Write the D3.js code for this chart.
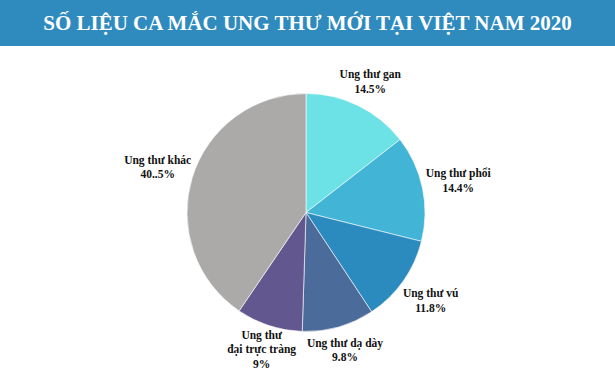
<!DOCTYPE html>
<html><head><meta charset="utf-8">
<script src="https://cdn.jsdelivr.net/npm/d3@7"></script>
<style>body{margin:0;background:#fff}svg{display:block}
.serif{font-family:"Liberation Serif","DejaVu Serif",serif;font-weight:bold}</style>
</head><body>
<svg id="c" width="615" height="392"></svg>
<script>
const title = "SỐ LIỆU CA MẮC UNG THƯ MỚI TẠI VIỆT NAM 2020";
const categories = ["Ung thư gan","Ung thư phổi","Ung thư vú","Ung thư dạ dày","Ung thư đại trực tràng","Ung thư khác"];
const labelLines = [["Ung thư gan"],["Ung thư phổi"],["Ung thư vú"],["Ung thư dạ dày"],["Ung thư","đại trực tràng"],["Ung thư khác"]];
const values = [14.5,14.4,11.8,9.8,9,40.5];
const valueLabels = ["14.5%","14.4%","11.8%","9.8%","9%","40..5%"];
const colors = ["#6ce2e6","#42b5d7","#2c8bbe","#4b6b9b","#635790","#abaaa8"];

const svg = d3.select("#c");
svg.append("rect").attr("x",0).attr("y",0).attr("width",615).attr("height",46).attr("fill","#2f8bbe");
svg.append("text").attr("class","serif").attr("x",307.5).attr("y",30).attr("text-anchor","middle")
  .attr("fill","#fff").attr("font-size",21).text(title);

const cx = 306, cy = 212.5, R = 119;
const g = svg.append("g").attr("transform",`translate(${cx},${cy})`);
const pie = d3.pie().sort(null).value(d=>d);
const arcs = pie(values);
const arc = d3.arc().innerRadius(0).outerRadius(R);
g.selectAll("path").data(arcs).join("path").attr("d",arc)
  .attr("fill",(d,i)=>colors[i]).attr("stroke","#fff").attr("stroke-width",0.6);

const lab = g.selectAll("g.lab").data(arcs).join("g").attr("class","lab");
lab.each(function(d,i){
  const a = (d.startAngle+d.endAngle)/2;
  const r = 138 + 18*Math.abs(Math.sin(a));
  const x = r*Math.sin(a), y = -r*Math.cos(a);
  const lines = labelLines[i].concat([valueLabels[i]]);
  const lh = 14.5;
  const y0 = y - (lines.length-1)*lh/2 + 4;
  const t = d3.select(this).append("text").attr("class","serif").attr("text-anchor","middle")
    .attr("font-size",11.5).attr("fill","#111");
  lines.forEach((l,k)=>t.append("tspan").attr("x",x).attr("y",y0+k*lh).text(l));
});
</script>
</body></html>
